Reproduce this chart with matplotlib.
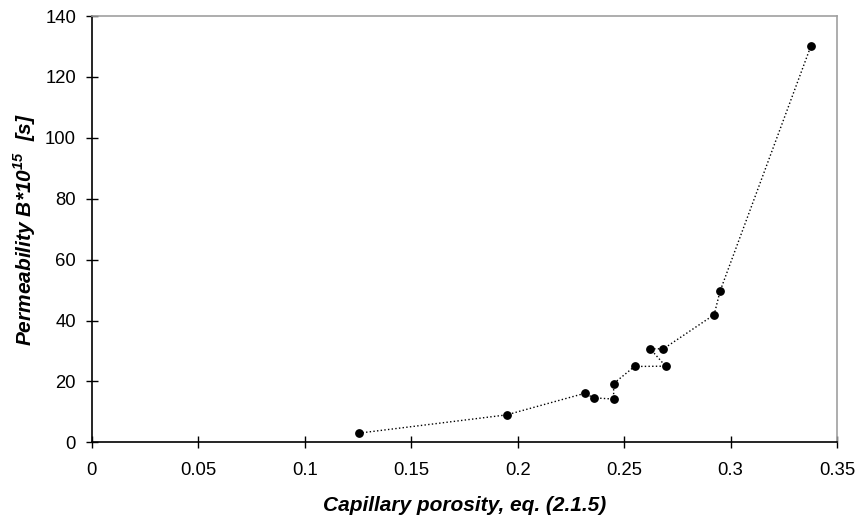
import matplotlib

matplotlib.use("Agg")
import matplotlib.pyplot as plt

plt.rcParams["font.family"] = ["Liberation Sans", "DejaVu Sans"]
plt.rcParams["mathtext.fontset"] = "custom"
plt.rcParams["mathtext.rm"] = "Liberation Sans"
plt.rcParams["mathtext.bfit"] = "Liberation Sans:italic:bold"

POROSITY = [0.1254, 0.1948, 0.2316, 0.2357, 0.2451, 0.2451, 0.2549,
            0.2695, 0.2623, 0.2685, 0.2923, 0.2951, 0.3378]
PERMEABILITY = [3.0, 9.0, 16.1, 14.6, 14.2, 19.3, 24.9,
                25.0, 30.7, 30.7, 41.9, 49.7, 130.3]

X_TICKS = [0, 0.05, 0.1, 0.15, 0.2, 0.25, 0.3, 0.35]
X_TICK_LABELS = ["0", "0.05", "0.1", "0.15", "0.2", "0.25", "0.3", "0.35"]
Y_TICKS = [0, 20, 40, 60, 80, 100, 120, 140]


def main():
    fig = plt.figure(figsize=(8.57, 5.17), dpi=100)
    ax = fig.add_axes([0.107, 0.1445, 0.8697, 0.8245])

    ax.plot(POROSITY, PERMEABILITY, linestyle=":", color="black", linewidth=1.0,
            marker="o", markersize=5.3, markerfacecolor="black",
            markeredgecolor="black", zorder=3)

    ax.set_xlim(0, 0.35)
    ax.set_ylim(0, 140)
    ax.set_xticks(X_TICKS)
    ax.set_xticklabels(X_TICK_LABELS)
    ax.set_yticks(Y_TICKS)
    ax.tick_params(axis="both", direction="inout", length=8.6, width=1.0,
                   labelsize=13.3, colors="black")
    ax.tick_params(axis="y", pad=7)
    ax.tick_params(axis="x", pad=10)

    for side in ("left", "bottom"):
        ax.spines[side].set_color("black")
        ax.spines[side].set_linewidth(1.2)
    for side in ("top", "right"):
        ax.spines[side].set_color("#a0a0a0")
        ax.spines[side].set_linewidth(1.2)

    ax.set_xlabel("Capillary porosity, eq. (2.1.5)", fontsize=15,
                  fontweight="bold", fontstyle="italic", labelpad=12)
    ax.set_ylabel("Permeability B*10$^{\\mathbfit{15}}$  [s]", fontsize=15,
                  fontweight="bold", fontstyle="italic", labelpad=5)

    fig.savefig("out.png", dpi=100, facecolor="white")
    plt.close(fig)


if __name__ == "__main__":
    main()
